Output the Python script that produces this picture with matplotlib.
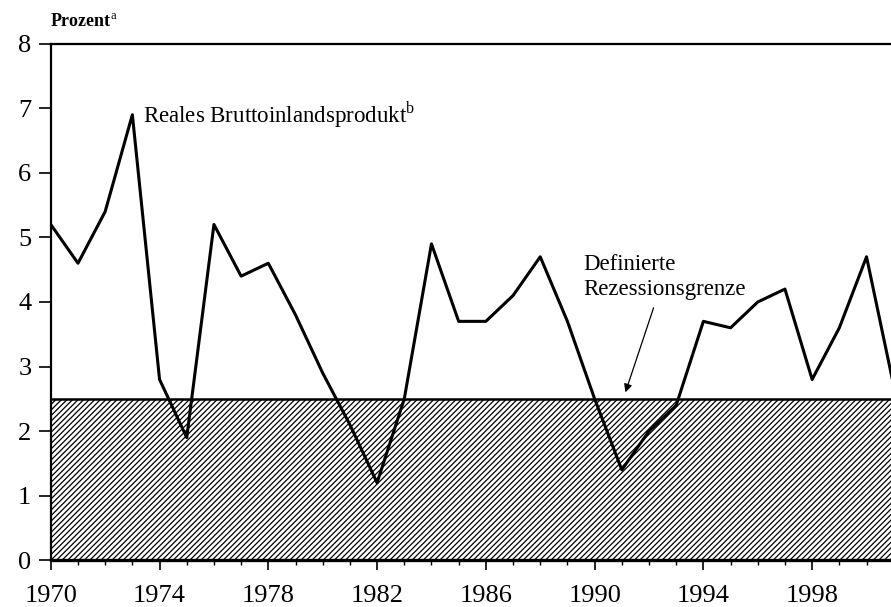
import numpy as np
import matplotlib.pyplot as plt

years = np.arange(1970, 2002)
gdp_growth = [5.2, 4.6, 5.4, 6.9, 2.8, 1.9, 5.2, 4.4, 4.6, 3.8,
              2.9, 2.1, 1.2, 2.5, 4.9, 3.7, 3.7, 4.1, 4.7, 3.7,
              2.5, 1.4, 2.0, 2.4, 3.7, 3.6, 4.0, 4.2, 2.8, 3.6,
              4.7, 2.7]
recession_limit = 2.5
major_years = [1970, 1974, 1978, 1982, 1986, 1990, 1994, 1998]
y_ticks = [0, 1, 2, 3, 4, 5, 6, 7, 8]

plt.rcParams['font.family'] = ['Liberation Serif', 'DejaVu Serif']
plt.rcParams['mathtext.fontset'] = 'custom'
plt.rcParams['mathtext.rm'] = 'Liberation Serif'
plt.rcParams['hatch.linewidth'] = 0.9

fig = plt.figure(figsize=(8.91, 6.07), dpi=100)
ax = fig.add_axes([0.057, 0.077, 0.943, 0.851])

# hatched recession zone
ax.fill_between([1970, 2001], 0, recession_limit, facecolor='white',
                edgecolor='black', hatch='//////', linewidth=0)
ax.axhline(recession_limit, color='black', lw=1.8)

ax.plot(years, gdp_growth, color='black', lw=2.2)

ax.set_xlim(1970, 2000.9)
ax.set_ylim(0, 8)
ax.set_xticks(major_years)
ax.set_xticks(np.arange(1970, 2001), minor=True)
ax.set_yticks(y_ticks)
ax.tick_params(axis='x', which='major', length=7, width=1.2, direction='out',
               labelsize=19, pad=11)
ax.tick_params(axis='x', which='minor', length=3.5, width=1.0, direction='out')
ax.tick_params(axis='y', length=9, width=1.2, direction='out', labelsize=19, pad=5)

for s in ['left', 'bottom', 'top']:
    ax.spines[s].set_linewidth(1.6)
ax.spines['bottom'].set_linewidth(2.4)
ax.spines['right'].set_visible(False)

fig.text(0.056, 0.955, 'Prozent$^{\\mathrm{a}}$', fontsize=13, fontweight='bold')

ax.text(1973.4, 6.9, 'Reales Bruttoinlandsprodukt$^{\\mathrm{b}}$', fontsize=16.5,
        va='center', ha='left')
ax.text(1989.6, 4.38, 'Definierte\nRezessionsgrenze', fontsize=16.5,
        va='center', ha='left', linespacing=1.25)
ax.annotate('', xy=(1991.1, 2.56), xytext=(1992.2, 3.95),
            arrowprops=dict(arrowstyle='-|>', color='black', lw=0.9,
                            mutation_scale=12))

fig.savefig('out.png', dpi=100)
